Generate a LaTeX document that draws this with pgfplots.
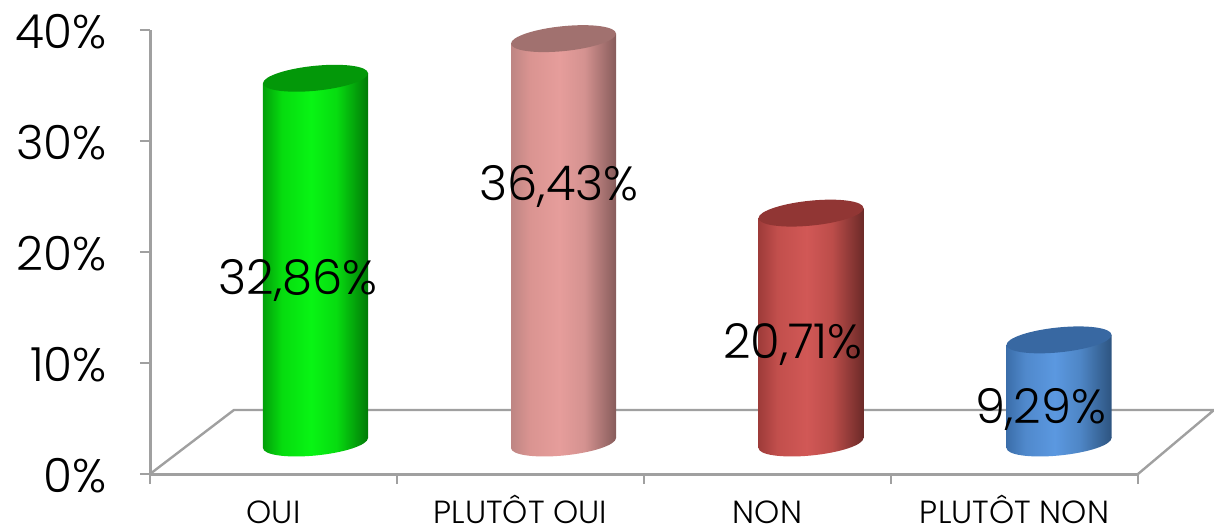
\documentclass[border=0pt]{standalone}
\usepackage{fontspec}
\setmainfont{Poppins Light}
\usepackage{pgfplots}
\pgfplotsset{compat=1.18}
\definecolor{ga}{HTML}{03A00A}\definecolor{gb}{HTML}{06DC0F}\definecolor{gc}{HTML}{08F514}\definecolor{gd}{HTML}{07DC10}\definecolor{ge}{HTML}{017A07}
\definecolor{pa}{HTML}{BE8583}\definecolor{pb}{HTML}{DA9491}\definecolor{pc}{HTML}{E69D9B}\definecolor{pd}{HTML}{D49290}\definecolor{pe}{HTML}{875C5B}
\definecolor{ra}{HTML}{9E3B39}\definecolor{rb}{HTML}{C24F4C}\definecolor{rc}{HTML}{D15856}\definecolor{rd}{HTML}{BC4D4A}\definecolor{re}{HTML}{6C2A28}
\definecolor{ba}{HTML}{3B6EAA}\definecolor{bb}{HTML}{5089CC}\definecolor{bc}{HTML}{5B98E0}\definecolor{bd}{HTML}{4E86C6}\definecolor{be}{HTML}{2D5480}
\pgfdeclarehorizontalshading{greencyl}{100bp}{color(0bp)=(ga);color(25bp)=(ga);color(34bp)=(gb);color(48bp)=(gc);color(60bp)=(gd);color(75bp)=(ge);color(100bp)=(ge)}
\pgfdeclarehorizontalshading{pinkcyl}{100bp}{color(0bp)=(pa);color(25bp)=(pa);color(34bp)=(pb);color(48bp)=(pc);color(60bp)=(pd);color(75bp)=(pe);color(100bp)=(pe)}
\pgfdeclarehorizontalshading{redcyl}{100bp}{color(0bp)=(ra);color(25bp)=(ra);color(34bp)=(rb);color(48bp)=(rc);color(60bp)=(rd);color(75bp)=(re);color(100bp)=(re)}
\pgfdeclarehorizontalshading{bluecyl}{100bp}{color(0bp)=(ba);color(25bp)=(ba);color(34bp)=(bb);color(48bp)=(bc);color(60bp)=(bd);color(75bp)=(be);color(100bp)=(be)}
\definecolor{axgray}{HTML}{A0A0A0}
\def\cylshade{greencyl}
\pgfdeclareplotmark{cylbottom}{\pgfpathellipse{\pgfpointorigin}{\pgfqpoint{26.25pt}{2.5pt}}{\pgfqpoint{0pt}{6.25pt}}\pgfshadepath{\cylshade}{0}\pgfusepath{discard}}
\pgfdeclareplotmark{cyltop}{\pgfpathellipse{\pgfpointorigin}{\pgfqpoint{26.25pt}{2.5pt}}{\pgfqpoint{0pt}{6.25pt}}\pgfusepath{fill}}
\newcommand\cyl[4]{%
\def\cylshade{#3}%
\begin{axis}[hide axis,clip=false,x={(52.5pt,5pt)},y={(0pt,5.55pt)},
  xmin=-0.5,xmax=0.5,ymin=0,ymax=40,at={(#1pt,43.5pt)},anchor=origin]
\addplot[only marks,mark=cylbottom] coordinates {(0,0)};
\addplot[draw=none,shade,shading=#3,shading angle=0] coordinates {(-0.5,0) (-0.5,#2) (0.5,#2) (0.5,0)} --cycle;
\addplot[only marks,mark=cyltop,color=#4,fill=#4,mark options={fill=#4,draw=none}] coordinates {(0,#2)};
\end{axis}}
\begin{document}
\begin{tikzpicture}
\useasboundingbox (0,0) rectangle (607pt,265pt);
\begin{axis}[scale only axis,width=494pt,height=222pt,at={(75pt,28pt)},anchor=south west,
  xmin=0,xmax=4,ymin=0,ymax=40,clip=false,
  axis y line=left,axis x line=bottom,axis line style={draw=axgray,line width=1.5pt,-},
  tick style={draw=axgray,line width=1pt},tick align=outside,major tick length=5pt,
  xtick={0,1,2,3,4},x tick label as interval,
  xticklabels={OUI,PLUTÔT OUI,NON,PLUTÔT NON},
  ytick={0,10,20,30,40},yticklabels={0\%,10\%,20\%,30\%,40\%},
  x tick label style={font=\fontsize{16}{16}\selectfont,text=black,anchor=base,yshift=-19.5pt},
  y tick label style={font=\fontsize{23.5}{23.5}\selectfont,text=black,xshift=-13pt,yshift=-1pt},
  ]
\addplot[axgray,line width=1.2pt] coordinates {(0,0) (0.34,5.77) (4.308,5.77) (4,0)};
\end{axis}
\cyl{157.75}{32.86}{greencyl}{ga!95!black}
\cyl{281.75}{36.43}{pinkcyl}{pa!85!black}
\cyl{405.5}{20.71}{redcyl}{ra!92!black}
\cyl{529.5}{9.29}{bluecyl}{ba!95!black}
\begin{axis}[hide axis,scale only axis,width=494pt,height=222pt,at={(75pt,28pt)},anchor=south west,
  xmin=0,xmax=4,ymin=0,ymax=40,clip=false]
\addplot[only marks,mark=none,nodes near coords,point meta=explicit symbolic,
  every node near coord/.style={anchor=center,font=\fontsize{24}{24}\selectfont,text=black}]
  table[meta=l] {
x y l
0.599 17.46 {32,86\%}
1.656 25.90 {36,43\%}
2.603 11.64 {20,71\%}
3.607 5.85 {9,29\%}
};
\end{axis}
\end{tikzpicture}
\end{document}
